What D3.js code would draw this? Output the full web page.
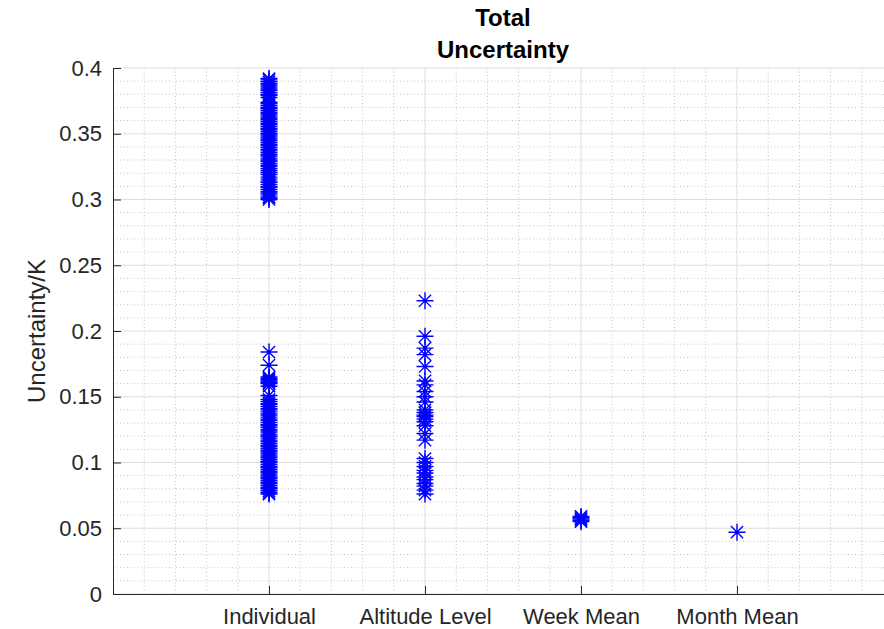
<!DOCTYPE html>
<html>
<head>
<meta charset="utf-8">
<script src="https://cdn.jsdelivr.net/npm/d3@7/dist/d3.min.js"></script>
<style>
  html, body { margin: 0; padding: 0; background: #fff; }
  svg { display: block; font-family: "Liberation Sans", Arial, Helvetica, sans-serif; }
</style>
</head>
<body>
<svg id="chart" width="884" height="629"></svg>
<script>
// Categories along the x axis (plotted at positions 1..4)
const categories = ["Individual", "Altitude Level", "Week Mean", "Month Mean"];

// Total uncertainty (K) for each averaging level
const individualValues = [
  // upper group
  0.300, 0.301, 0.302, 0.3035, 0.305, 0.306, 0.3075, 0.309, 0.310, 0.3115,
  0.313, 0.314, 0.3155, 0.317, 0.319, 0.3205, 0.322, 0.3235, 0.325, 0.326,
  0.3275, 0.329, 0.330, 0.3315, 0.333, 0.334, 0.3355, 0.337, 0.338, 0.3395,
  0.341, 0.342, 0.3435, 0.345, 0.346, 0.3475, 0.349, 0.350, 0.3515, 0.353,
  0.354, 0.3555, 0.357, 0.358, 0.3595, 0.361, 0.362, 0.3635, 0.365, 0.366,
  0.3675, 0.369, 0.370, 0.3715, 0.373, 0.374, 0.3775, 0.379, 0.380, 0.3815,
  0.383, 0.384, 0.3855, 0.387, 0.388, 0.3895, 0.391, 0.392,
  // lower group
  0.076, 0.077, 0.0785, 0.080, 0.081, 0.0825, 0.084, 0.085, 0.0865, 0.088,
  0.089, 0.0905, 0.092, 0.093, 0.0945, 0.096, 0.097, 0.0985, 0.100, 0.101,
  0.1025, 0.104, 0.105, 0.1065, 0.108, 0.109, 0.1105, 0.112, 0.113, 0.1145,
  0.116, 0.117, 0.1185, 0.120, 0.121, 0.1225, 0.124, 0.125, 0.1265, 0.128,
  0.129, 0.1305, 0.132, 0.133, 0.1345, 0.136, 0.137, 0.1385, 0.140, 0.141,
  0.1425, 0.144, 0.145, 0.1465, 0.148, 0.151, 0.158, 0.160, 0.161, 0.162,
  0.163, 0.164, 0.165, 0.174, 0.184
];
const altitudeValues = [
  0.076, 0.079, 0.082, 0.084, 0.087, 0.089, 0.092, 0.094, 0.097, 0.100,
  0.103, 0.117, 0.122, 0.128, 0.131, 0.133, 0.135, 0.136, 0.138, 0.140,
  0.146, 0.150, 0.154, 0.159, 0.162, 0.173, 0.182, 0.187, 0.196, 0.223
];
const weekValues = [0.055, 0.056, 0.057, 0.058, 0.059];
const monthValues = [0.047];

const seriesValues = [individualValues, altitudeValues, weekValues, monthValues];

// Axis ticks
const yTicks = [0, 0.05, 0.1, 0.15, 0.2, 0.25, 0.3, 0.35, 0.4];
const yTickLabels = ["0", "0.05", "0.1", "0.15", "0.2", "0.25", "0.3", "0.35", "0.4"];
const xTicks = [1, 2, 3, 4];

const titleLines = ["Total", "Uncertainty"];
const yLabel = "Uncertainty/K";

// ---------- layout ----------
const svg = d3.select("#chart");
const plotLeft = 113, plotRight = 893, plotTop = 68, plotBottom = 594;

const x = d3.scaleLinear().domain([0, 5]).range([plotLeft, plotRight]);
const y = d3.scaleLinear().domain([0, 0.4]).range([plotBottom, plotTop]);

const axisColor = "#262626";
const g = svg.append("g");

// Minor grid (dotted)
const xMinor = d3.range(0, 5.0001, 0.2).map(v => +v.toFixed(2)).filter(v => !Number.isInteger(v));
const yMinor = d3.range(0, 0.4001, 0.01).map(v => +v.toFixed(3)).filter(v => Math.abs(v / 0.05 - Math.round(v / 0.05)) > 1e-6);

g.append("g").selectAll("line").data(xMinor).join("line")
  .attr("x1", d => x(d)).attr("x2", d => x(d))
  .attr("y1", plotTop).attr("y2", plotBottom)
  .attr("stroke", "#c4c4c4").attr("stroke-width", 1)
  .attr("stroke-dasharray", "1,2.5");
g.append("g").selectAll("line").data(yMinor).join("line")
  .attr("x1", plotLeft).attr("x2", plotRight)
  .attr("y1", d => y(d)).attr("y2", d => y(d))
  .attr("stroke", "#c4c4c4").attr("stroke-width", 1)
  .attr("stroke-dasharray", "1,2.5");

// Major grid (solid, light)
g.append("g").selectAll("line").data(xTicks).join("line")
  .attr("x1", d => x(d)).attr("x2", d => x(d))
  .attr("y1", plotTop).attr("y2", plotBottom)
  .attr("stroke", "#dedede").attr("stroke-width", 1);
g.append("g").selectAll("line").data(yTicks).join("line")
  .attr("x1", plotLeft).attr("x2", plotRight)
  .attr("y1", d => y(d)).attr("y2", d => y(d))
  .attr("stroke", "#dedede").attr("stroke-width", 1);

// Axes with inward ticks
const yAxis = d3.axisLeft(y).tickValues(yTicks)
  .tickFormat((d, i) => yTickLabels[i]).tickSizeInner(-8).tickSizeOuter(0).tickPadding(11);
const xAxis = d3.axisBottom(x).tickValues(xTicks)
  .tickFormat(d => categories[d - 1]).tickSizeInner(-8).tickSizeOuter(0).tickPadding(14);

const ya = svg.append("g").attr("transform", `translate(${plotLeft},0)`).call(yAxis);
const xa = svg.append("g").attr("transform", `translate(0,${plotBottom})`).call(xAxis);
[ya, xa].forEach(a => {
  a.select(".domain").attr("stroke", axisColor).attr("stroke-width", 1);
  a.selectAll(".tick line").attr("stroke", axisColor).attr("stroke-width", 1);
  a.selectAll(".tick text").attr("fill", axisColor)
    .style("font-size", "22px")
    .style("font-family", "'Liberation Sans', Arial, sans-serif");
});

// Asterisk markers
const markerGroup = svg.append("g");
const r = 8.5, rd = r * 0.72;
const starPath = `M${-r},0L${r},0M0,${-r}L0,${r}M${-rd},${-rd}L${rd},${rd}M${-rd},${rd}L${rd},${-rd}`;
const points = [];
seriesValues.forEach((vals, i) => vals.forEach(v => points.push({ cat: i + 1, v })));
markerGroup.selectAll("path").data(points).join("path")
  .attr("transform", d => `translate(${x(d.cat)},${y(d.v)})`)
  .attr("d", starPath)
  .attr("fill", "none")
  .attr("stroke", "#0000ff")
  .attr("stroke-width", 1.4);

// Title
svg.append("g").selectAll("text").data(titleLines).join("text")
  .attr("x", (plotLeft + plotRight) / 2)
  .attr("y", (d, i) => 26 + i * 32)
  .attr("text-anchor", "middle")
  .attr("fill", "#000")
  .style("font-size", "24px")
  .style("font-weight", "bold")
  .text(d => d);

// Y-axis label
svg.append("text")
  .attr("transform", `translate(45,${(plotTop + plotBottom) / 2}) rotate(-90)`)
  .attr("text-anchor", "middle")
  .attr("fill", axisColor)
  .style("font-size", "24px")
  .text(yLabel);
</script>
</body>
</html>
